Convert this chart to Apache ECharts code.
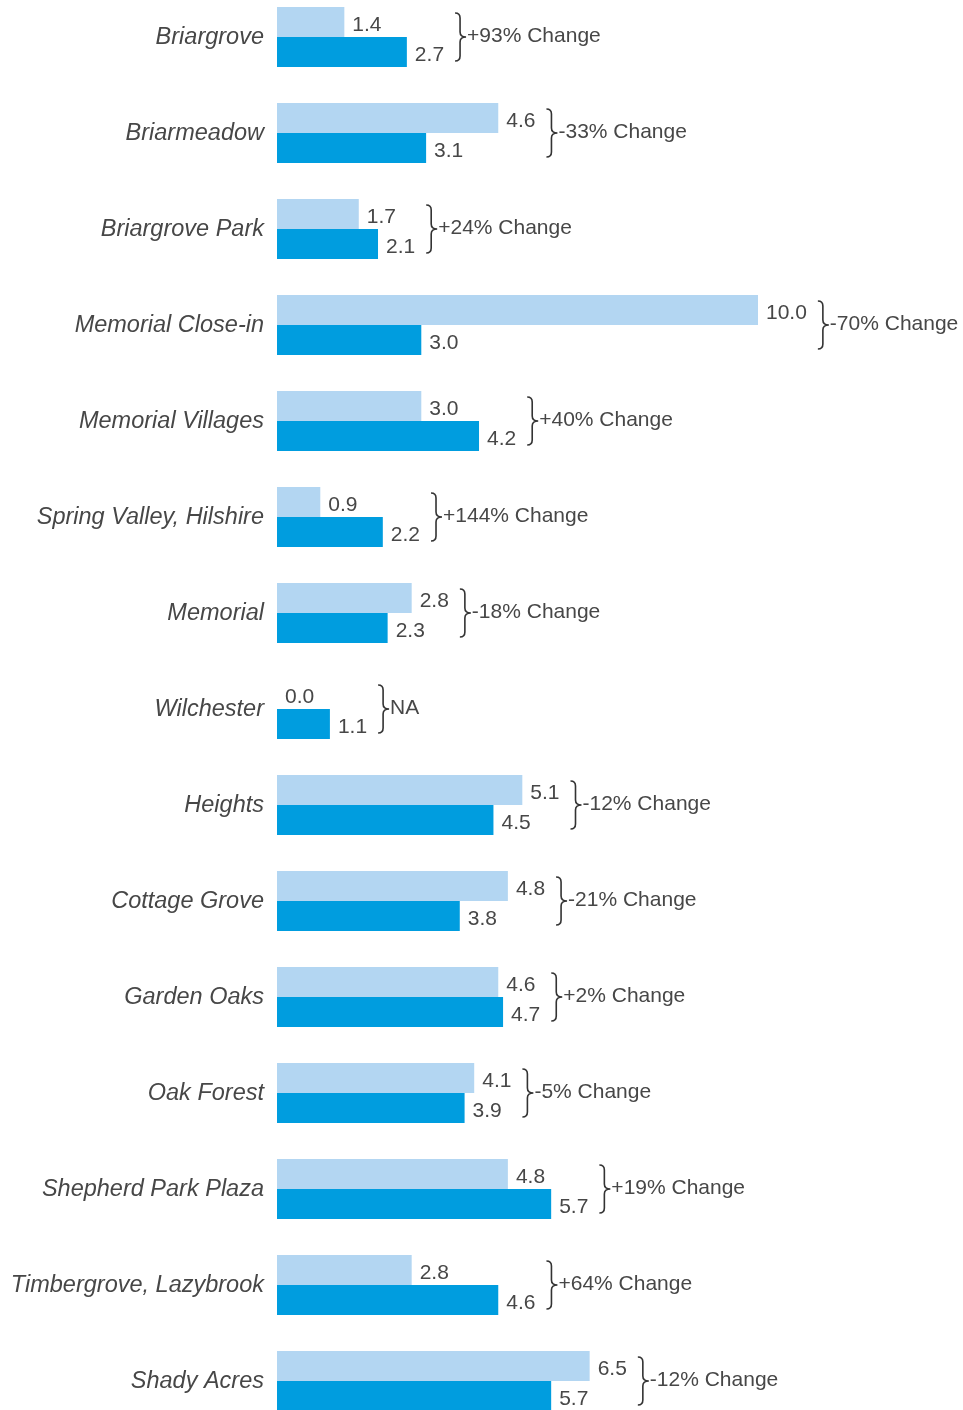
<!DOCTYPE html>
<html><head><meta charset="utf-8">
<script src="https://cdn.jsdelivr.net/npm/echarts@6/dist/echarts.min.js"></script>
<style>html,body{margin:0;padding:0;background:#fff;overflow:hidden;height:1410px}#c{position:relative;top:-11px;width:963px;height:1440px}</style>
</head><body><div id="c"></div>
<script>
var categories = ['Briargrove','Briarmeadow','Briargrove Park','Memorial Close-in','Memorial Villages','Spring Valley, Hilshire','Memorial','Wilchester','Heights','Cottage Grove','Garden Oaks','Oak Forest','Shepherd Park Plaza','Timbergrove, Lazybrook','Shady Acres'];
var lightValues = [1.4,4.6,1.7,10.0,3.0,0.9,2.8,0.0,5.1,4.8,4.6,4.1,4.8,2.8,6.5];
var darkValues  = [2.7,3.1,2.1,3.0,4.2,2.2,2.3,1.1,4.5,3.8,4.7,3.9,5.7,4.6,5.7];
var changeLabels = ['+93% Change','-33% Change','+24% Change','-70% Change','+40% Change','+144% Change','-18% Change','NA','-12% Change','-21% Change','+2% Change','-5% Change','+19% Change','+64% Change','-12% Change'];

var FONT = 'Liberation Sans';
var VAL_SIZE = 21;
var LABEL_DIST = 8;
var TEXT_COLOR = '#474747';
var canvas = document.createElement('canvas');
var ctx = canvas.getContext('2d');
ctx.font = VAL_SIZE + 'px "' + FONT + '"';
function tw(s){ return ctx.measureText(s).width; }

var braceData = categories.map(function(c,i){
  return [Math.max(lightValues[i], darkValues[i]), i];
});

var chart = echarts.init(document.getElementById('c'));
var valLabel = {
  show: true, position: 'right', distance: LABEL_DIST, offset: [0,3],
  fontFamily: FONT, fontSize: VAL_SIZE, color: TEXT_COLOR,
  formatter: function(p){ return p.value.toFixed(1); }
};
chart.setOption({
  animation: false,
  grid: { left: 277, right: 205, top: 0, bottom: 0, containLabel: false },
  xAxis: { type: 'value', min: 0, max: 10, show: false },
  yAxis: {
    type: 'category', data: categories, inverse: true,
    axisLine: {show:false}, axisTick: {show:false}, splitLine: {show:false},
    axisLabel: { fontFamily: FONT, fontStyle: 'italic', fontSize: 23.5, color: TEXT_COLOR, margin: 13 }
  },
  series: [
    { type: 'bar', name: 'light', data: lightValues, barWidth: 30, barGap: '0%',
      itemStyle: { color: '#b3d6f2' }, label: valLabel },
    { type: 'bar', name: 'dark', data: darkValues, barWidth: 30, barGap: '0%',
      itemStyle: { color: '#009ddf' }, label: valLabel },
    { type: 'custom', name: 'brace', data: braceData, clip: false, z: 5,
      renderItem: function(params, api){
        var i = api.value(1);
        var l = lightValues[i], d = darkValues[i];
        var lab = (l >= d ? l : d).toFixed(1);
        var p = api.coord([api.value(0), i]);
        var x0 = p[0] + LABEL_DIST + tw(lab) + 11;
        var y = p[1];
        var path = 'M' + x0 + ' ' + (y-24) +
          ' Q' + (x0+5) + ' ' + (y-24) + ' ' + (x0+5) + ' ' + (y-19) +
          ' L' + (x0+5) + ' ' + (y-5) +
          ' Q' + (x0+5) + ' ' + y + ' ' + (x0+11) + ' ' + y +
          ' Q' + (x0+5) + ' ' + y + ' ' + (x0+5) + ' ' + (y+5) +
          ' L' + (x0+5) + ' ' + (y+19) +
          ' Q' + (x0+5) + ' ' + (y+24) + ' ' + x0 + ' ' + (y+24);
        return { type: 'group', children: [
          { type: 'path', shape: { pathData: path },
            style: { fill: null, stroke: '#333', lineWidth: 1.6 } },
          { type: 'text', x: x0 + 12, y: y - 1,
            style: { text: changeLabels[i], fontFamily: FONT, fontSize: VAL_SIZE,
              fill: TEXT_COLOR, verticalAlign: 'middle', align: 'left' } }
        ]};
      }
    }
  ]
});
</script></body></html>
